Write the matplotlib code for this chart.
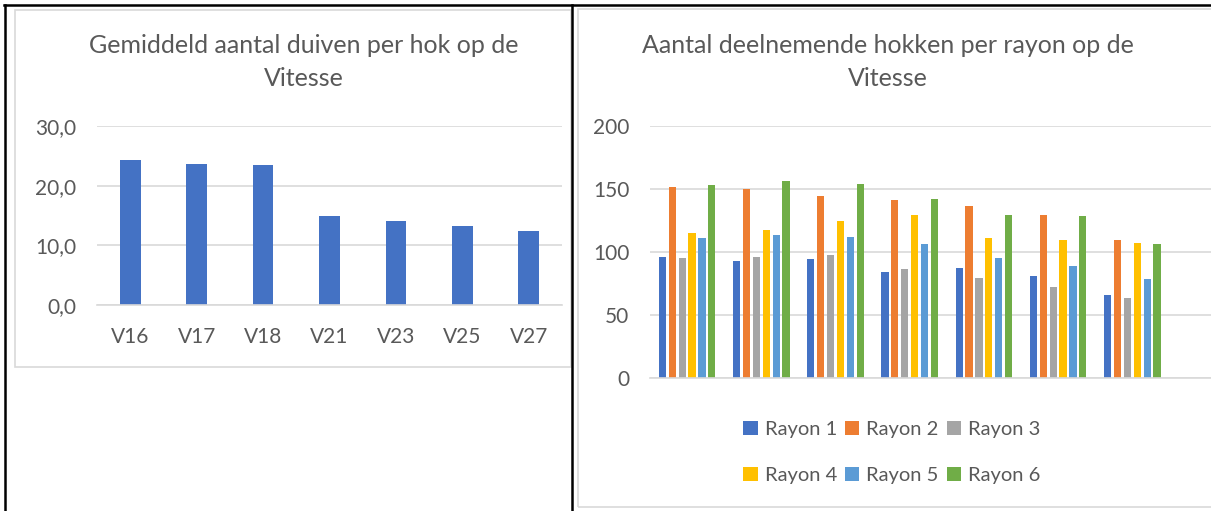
import matplotlib
matplotlib.use("Agg")
import matplotlib.pyplot as plt
import numpy as np
from matplotlib.patches import Rectangle, Patch
from matplotlib.lines import Line2D

plt.rcParams['font.family'] = ['Lato', 'DejaVu Sans']

# data
vluchten = ['V16', 'V17', 'V18', 'V21', 'V23', 'V25', 'V27']
gem_duiven = [24.3, 23.7, 23.4, 15.0, 14.1, 13.2, 12.4]

rayons = ['Rayon 1', 'Rayon 2', 'Rayon 3', 'Rayon 4', 'Rayon 5', 'Rayon 6']
rayon_1 = [96, 93, 94, 84, 87, 81, 66]
rayon_2 = [151, 150, 144, 141, 136, 129, 109]
rayon_3 = [95, 96, 97, 86, 79, 72, 63]
rayon_4 = [115, 117, 124, 129, 111, 109, 107]
rayon_5 = [111, 113, 112, 106, 95, 89, 78]
rayon_6 = [153, 156, 154, 142, 129, 128, 106]
hokken = [rayon_1, rayon_2, rayon_3, rayon_4, rayon_5, rayon_6]

kleuren = ['#4472C4', '#ED7D31', '#A5A5A5', '#FFC000', '#5B9BD5', '#70AD47']
grijs = '#595959'
lijn = '#D9D9D9'

W, H = 1211, 511


def fx(px):
    return px / W


def fy(py):
    return 1 - py / H


fig = plt.figure(figsize=(W / 100, H / 100), dpi=100)

# chart frames
for x0, y0, x1, y1 in [(15, 10, 571, 367), (578, 9, 1240, 507)]:
    fig.add_artist(Rectangle((fx(x0), fy(y1)), fx(x1 - x0), (y1 - y0) / H,
                             transform=fig.transFigure, facecolor='none',
                             edgecolor=lijn, lw=1.2))


def opmaak(ax):
    for s in ['top', 'left', 'right']:
        ax.spines[s].set_visible(False)
    ax.spines['bottom'].set_color(lijn)
    ax.spines['bottom'].set_linewidth(1.2)
    ax.grid(axis='y', color=lijn, lw=1.2)
    ax.set_axisbelow(True)
    ax.tick_params(length=0, labelsize=15, labelcolor=grijs)
    ax.patch.set_visible(False)


# left chart
ax1 = fig.add_axes([fx(97), fy(305), (562 - 97) / W, (305 - 126) / H])
x = np.arange(len(vluchten))
ax1.bar(x, gem_duiven, width=0.31, color=kleuren[0])
ax1.set_xlim(-0.5, len(vluchten) - 0.5)
ax1.set_ylim(0, 30)
ax1.set_yticks([0, 10, 20, 30])
ax1.set_yticklabels([f'{v:.1f}'.replace('.', ',') for v in [0, 10, 20, 30]])
ax1.set_xticks(x)
ax1.set_xticklabels(vluchten)
opmaak(ax1)
ax1.tick_params(axis='x', pad=16)
ax1.tick_params(axis='y', pad=15)

# right chart
ax2 = fig.add_axes([fx(650), fy(377.7), 593.6 / W, (377.7 - 125.7) / H])
for i, (reeks, kleur) in enumerate(zip(hokken, kleuren)):
    ax2.bar(x + (i - 2.5) * 0.1334, reeks, width=0.098, color=kleur)
ax2.set_xlim(-0.5, len(vluchten) + 0.5)
ax2.set_ylim(0, 200)
ax2.set_yticks([0, 50, 100, 150, 200])
ax2.set_xticks([])
opmaak(ax2)
ax2.tick_params(axis='y', pad=15)

# titles
fig.text(fx(304), fy(62), 'Gemiddeld aantal duiven per hok op de\nVitesse',
         ha='center', va='center', fontsize=18, color=grijs, linespacing=1.5)
fig.text(fx(888), fy(62), 'Aantal deelnemende hokken per rayon op de\nVitesse',
         ha='center', va='center', fontsize=18, color=grijs, linespacing=1.5)

# legend, filled row by row
handles = [Patch(facecolor=k) for k in kleuren]
volgorde = [0, 3, 1, 4, 2, 5]
fig.legend([handles[i] for i in volgorde], [rayons[i] for i in volgorde],
           loc='center', bbox_to_anchor=(fx(891.8), fy(452.5)), ncol=3,
           frameon=False, fontsize=14.5, labelcolor=grijs,
           handlelength=0.7, handleheight=0.7, handletextpad=0.35,
           columnspacing=0.4, labelspacing=1.4)

# table borders
for xs, ys in [((4, W), (5, 5)), ((5, 5), (5, H)), ((571.5, 571.5), (5, H))]:
    fig.add_artist(Line2D([fx(v) for v in xs], [fy(v) for v in ys],
                          transform=fig.transFigure, color='black', lw=1.8))

fig.savefig('out.png', dpi=100)
